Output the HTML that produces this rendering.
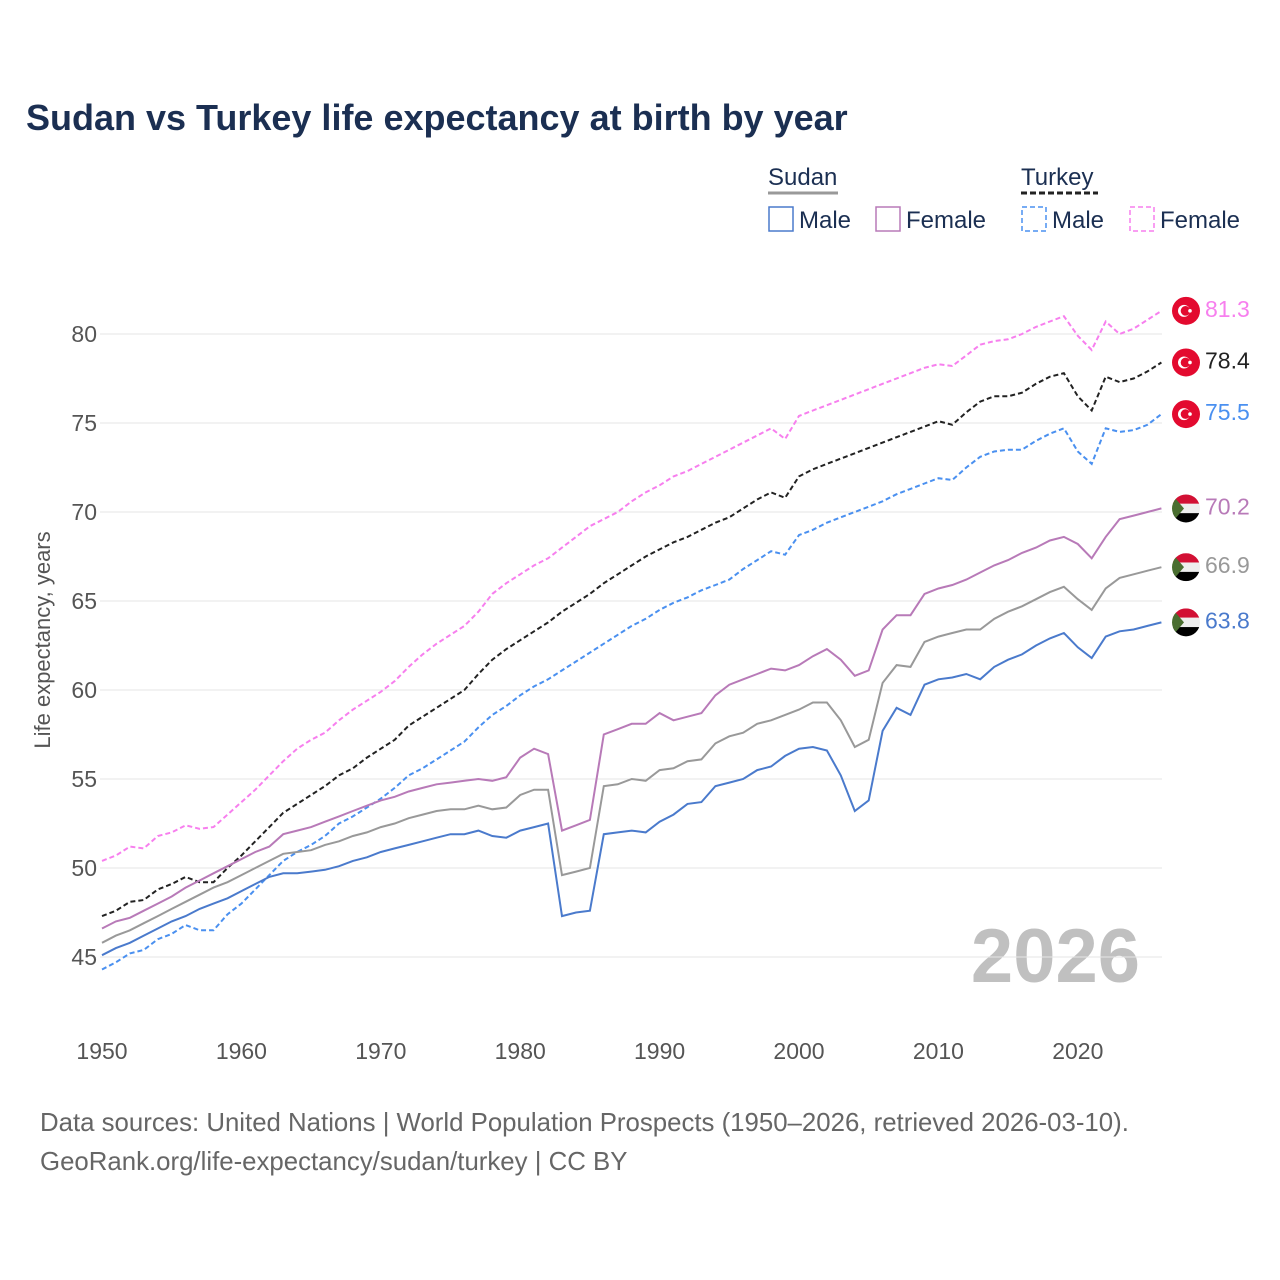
<!DOCTYPE html>
<html><head><meta charset="utf-8"><style>
body{margin:0;background:#fff;font-family:"Liberation Sans",sans-serif;}
svg{display:block}
</style></head><body>
<svg id="chart" width="1280" height="1280" xmlns="http://www.w3.org/2000/svg">
<defs>
<clipPath id="fc"><circle cx="0" cy="0" r="14"/></clipPath>
</defs>
<text x="26" y="130" font-size="36" font-weight="bold" fill="#1b2f52">Sudan vs Turkey life expectancy at birth by year</text>
<g font-size="24" fill="#1b2f52">
<text x="768" y="185">Sudan</text>
<line x1="768" y1="193" x2="838" y2="193" stroke="#999" stroke-width="3"/>
<text x="1021" y="185">Turkey</text>
<line x1="1021" y1="193" x2="1098" y2="193" stroke="#222" stroke-width="3" stroke-dasharray="6,3"/>
<g><rect x="769" y="207" width="24" height="24" fill="none" stroke="#4a7acc" stroke-width="1.5"/><text x="799" y="228">Male</text></g>
<g><rect x="876" y="207" width="24" height="24" fill="none" stroke="#b87ab8" stroke-width="1.5"/><text x="906" y="228">Female</text></g>
<g><rect x="1022" y="207" width="24" height="24" fill="none" stroke="#4a90f0" stroke-width="1.5" stroke-dasharray="5,3"/><text x="1052" y="228">Male</text></g>
<g><rect x="1130" y="207" width="24" height="24" fill="none" stroke="#f77fee" stroke-width="1.5" stroke-dasharray="5,3"/><text x="1160" y="228">Female</text></g>
</g>
<text x="1140" y="982" font-size="76" font-weight="bold" fill="#c0c0c0" text-anchor="end">2026</text>
<text transform="translate(50,640) rotate(-90)" font-size="22" fill="#555" text-anchor="middle">Life expectancy, years</text>
<g id="grid"></g><g id="series"></g><g id="ends"></g>
<text x="40" y="1131" font-size="25.8" fill="#666">Data sources: United Nations | World Population Prospects (1950–2026, retrieved 2026-03-10).</text>
<text x="40" y="1170" font-size="25.8" fill="#666">GeoRank.org/life-expectancy/sudan/turkey | CC BY</text>
</svg>
<script>
const years=[];for(let y=1950;y<=2026;y++)years.push(y);
const yTicks=[45,50,55,60,65,70,75,80];
const xTicks=[1950,1960,1970,1980,1990,2000,2010,2020];
const turkeyFemale=[50.4,50.7,51.2,51.1,51.8,52.0,52.4,52.2,52.3,53.0,53.7,54.4,55.2,56.0,56.7,57.2,57.6,58.3,58.9,59.4,59.9,60.5,61.3,62.0,62.6,63.1,63.6,64.4,65.4,66.0,66.5,67.0,67.4,68.0,68.6,69.2,69.6,70.0,70.6,71.1,71.5,72.0,72.3,72.7,73.1,73.5,73.9,74.3,74.7,74.1,75.4,75.7,76.0,76.3,76.6,76.9,77.2,77.5,77.8,78.1,78.3,78.2,78.8,79.4,79.6,79.7,80.0,80.4,80.7,81.0,79.9,79.1,80.7,80.0,80.3,80.8,81.3];
const turkeyTotal=[47.3,47.6,48.1,48.2,48.8,49.1,49.5,49.2,49.2,50.0,50.7,51.5,52.3,53.1,53.6,54.1,54.6,55.2,55.6,56.2,56.7,57.2,58.0,58.5,59.0,59.5,60.0,60.9,61.7,62.3,62.8,63.3,63.8,64.4,64.9,65.4,66.0,66.5,67.0,67.5,67.9,68.3,68.6,69.0,69.4,69.7,70.2,70.7,71.1,70.8,72.0,72.4,72.7,73.0,73.3,73.6,73.9,74.2,74.5,74.8,75.1,74.9,75.6,76.2,76.5,76.5,76.7,77.2,77.6,77.8,76.5,75.7,77.6,77.3,77.5,77.9,78.4];
const turkeyMale=[44.3,44.7,45.2,45.4,46.0,46.3,46.8,46.5,46.5,47.4,48.0,48.8,49.6,50.4,50.9,51.3,51.8,52.5,52.9,53.4,53.9,54.5,55.2,55.6,56.1,56.6,57.1,57.9,58.6,59.1,59.7,60.2,60.6,61.1,61.6,62.1,62.6,63.1,63.6,64.0,64.5,64.9,65.2,65.6,65.9,66.2,66.8,67.3,67.8,67.6,68.7,69.0,69.4,69.7,70.0,70.3,70.6,71.0,71.3,71.6,71.9,71.8,72.5,73.1,73.4,73.5,73.5,74.0,74.4,74.7,73.4,72.7,74.7,74.5,74.6,74.9,75.5];
const sudanFemale=[46.6,47.0,47.2,47.6,48.0,48.4,48.9,49.3,49.7,50.1,50.5,50.9,51.2,51.9,52.1,52.3,52.6,52.9,53.2,53.5,53.8,54.0,54.3,54.5,54.7,54.8,54.9,55.0,54.9,55.1,56.2,56.7,56.4,52.1,52.4,52.7,57.5,57.8,58.1,58.1,58.7,58.3,58.5,58.7,59.7,60.3,60.6,60.9,61.2,61.1,61.4,61.9,62.3,61.7,60.8,61.1,63.4,64.2,64.2,65.4,65.7,65.9,66.2,66.6,67.0,67.3,67.7,68.0,68.4,68.6,68.2,67.4,68.6,69.6,69.8,70.0,70.2];
const sudanTotal=[45.8,46.2,46.5,46.9,47.3,47.7,48.1,48.5,48.9,49.2,49.6,50.0,50.4,50.8,50.9,51.0,51.3,51.5,51.8,52.0,52.3,52.5,52.8,53.0,53.2,53.3,53.3,53.5,53.3,53.4,54.1,54.4,54.4,49.6,49.8,50.0,54.6,54.7,55.0,54.9,55.5,55.6,56.0,56.1,57.0,57.4,57.6,58.1,58.3,58.6,58.9,59.3,59.3,58.3,56.8,57.2,60.4,61.4,61.3,62.7,63.0,63.2,63.4,63.4,64.0,64.4,64.7,65.1,65.5,65.8,65.1,64.5,65.7,66.3,66.5,66.7,66.9];
const sudanMale=[45.1,45.5,45.8,46.2,46.6,47.0,47.3,47.7,48.0,48.3,48.7,49.1,49.5,49.7,49.7,49.8,49.9,50.1,50.4,50.6,50.9,51.1,51.3,51.5,51.7,51.9,51.9,52.1,51.8,51.7,52.1,52.3,52.5,47.3,47.5,47.6,51.9,52.0,52.1,52.0,52.6,53.0,53.6,53.7,54.6,54.8,55.0,55.5,55.7,56.3,56.7,56.8,56.6,55.2,53.2,53.8,57.7,59.0,58.6,60.3,60.6,60.7,60.9,60.6,61.3,61.7,62.0,62.5,62.9,63.2,62.4,61.8,63.0,63.3,63.4,63.6,63.8];

const NS="http://www.w3.org/2000/svg";
const X=yr=>102+(yr-1950)*13.94;
const Y=v=>334+(80-v)*17.8;
function mk(tag,attrs,parent){const e=document.createElementNS(NS,tag);for(const k in attrs)e.setAttribute(k,attrs[k]);parent.appendChild(e);return e;}
const grid=document.getElementById('grid'),ser=document.getElementById('series'),ends=document.getElementById('ends');
yTicks.forEach(t=>{
  const l=mk('line',{x1:100,x2:1162,y1:Y(t),y2:Y(t),stroke:'#e6e6e6','stroke-width':1},grid);
  
  
  const tx=mk('text',{x:97,y:Y(t)+8,'text-anchor':'end','font-size':23,fill:'#555'},grid);
  tx.textContent=t;
  
  
});
xTicks.forEach(t=>{
  const tx=mk('text',{x:X(t),y:1059,'text-anchor':'middle','font-size':23,fill:'#555'},grid);
  tx.textContent=t;
  
  
});
const series=[
 {n:'turkey-female',d:turkeyFemale,c:'#f77fee',dash:'5,3',flag:'tr'},
 {n:'turkey-total',d:turkeyTotal,c:'#222222',dash:'5,3',flag:'tr'},
 {n:'turkey-male',d:turkeyMale,c:'#4a90f0',dash:'5,3',flag:'tr'},
 {n:'sudan-female',d:sudanFemale,c:'#b87ab8',dash:'',flag:'sd'},
 {n:'sudan-total',d:sudanTotal,c:'#999999',dash:'',flag:'sd'},
 {n:'sudan-male',d:sudanMale,c:'#4a7acc',dash:'',flag:'sd'}
];
series.forEach(s=>{
  const p=s.d.map((v,i)=>(i?'L':'M')+X(years[i]).toFixed(1)+','+Y(v).toFixed(1)).join('');
  const a={d:p,fill:'none',stroke:s.c,'stroke-width':2};if(s.dash)a['stroke-dasharray']=s.dash;
  const path=mk('path',a,ser);
  
  
  const last=s.d[s.d.length-1],cy=Y(last);
  const g=mk('g',{transform:`translate(1186,${cy})`},ends);
  
  
  if(s.flag==='tr'){
    mk('circle',{r:14,fill:'#e30a2f'},g);
    mk('circle',{cx:-2,r:6,fill:'#fff'},g);
    mk('circle',{cx:-0.5,r:4.8,fill:'#e30a2f'},g);
    mk('circle',{cx:4,r:1.8,fill:'#fff'},g);
  }else{
    const c=mk('g',{'clip-path':'url(#fc)'},g);
    mk('rect',{x:-14,y:-14,width:28,height:9.4,fill:'#d21034'},c);
    mk('rect',{x:-14,y:-4.7,width:28,height:9.4,fill:'#eeeeee'},c);
    mk('rect',{x:-14,y:4.7,width:28,height:9.4,fill:'#000'},c);
    mk('polygon',{points:'-14,-14 -2,0 -14,14',fill:'#4a6e30'},c);
  }
  const lbl=mk('text',{x:1205,y:cy+6,'font-size':23,fill:s.c},ends);
  lbl.textContent=last.toFixed(1);
  
  
});
</script>
</body></html>
